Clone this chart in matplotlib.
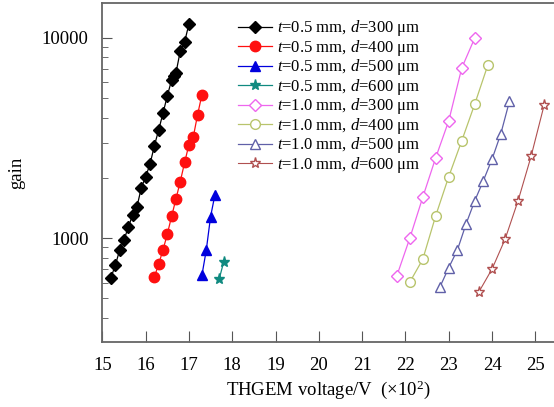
import matplotlib
matplotlib.use('Agg')
import matplotlib.pyplot as plt
import numpy as np

plt.rcParams['font.family'] = ['Liberation Serif', 'DejaVu Serif']
plt.rcParams['mathtext.fontset'] = 'custom'
plt.rcParams['mathtext.rm'] = 'Liberation Serif'
plt.rcParams['mathtext.it'] = 'Liberation Serif:italic'

# t=0.5 mm series
v05_300 = [15.2, 15.3, 15.4, 15.5, 15.6, 15.7, 15.8, 15.9, 16.0, 16.1, 16.2, 16.3, 16.4,
           16.5, 16.6, 16.65, 16.7, 16.8, 16.9, 17.0]
g05_300 = [636, 733, 871, 977, 1139, 1303, 1435, 1785, 2027, 2337, 2884, 3467, 4200,
           5130, 6170, 6460, 6680, 8610, 9550, 11750]
v05_400 = [16.2, 16.3, 16.4, 16.5, 16.6, 16.7, 16.8, 16.9, 17.0, 17.1, 17.2, 17.3]
g05_400 = [638, 741, 872, 1047, 1285, 1570, 1918, 2388, 2930, 3200, 4140, 5210]
v05_500 = [17.3, 17.4, 17.5, 17.6]
g05_500 = [653, 871, 1282, 1646]
v05_600 = [17.7, 17.8]
g05_600 = [627, 757]

# t=1.0 mm series
v10_300 = [21.8, 22.1, 22.4, 22.7, 23.0, 23.3, 23.6]
g10_300 = [648, 1000, 1603, 2529, 3860, 7080, 10000]
v10_400 = [22.1, 22.4, 22.7, 23.0, 23.3, 23.6, 23.9]
g10_400 = [603, 785, 1297, 2032, 3066, 4677, 7298]
v10_500 = [22.8, 23.0, 23.2, 23.4, 23.6, 23.8, 24.0, 24.2, 24.4]
g10_500 = [573, 713, 874, 1179, 1537, 1941, 2483, 3311, 4819]
v10_600 = [23.7, 24.0, 24.3, 24.6, 24.9, 25.2]
g10_600 = [541, 702, 988, 1537, 2559, 4602]

labels = ['$t$=0.5 mm, $d$=300 μm', '$t$=0.5 mm, $d$=400 μm',
          '$t$=0.5 mm, $d$=500 μm', '$t$=0.5 mm, $d$=600 μm',
          '$t$=1.0 mm, $d$=300 μm', '$t$=1.0 mm, $d$=400 μm',
          '$t$=1.0 mm, $d$=500 μm', '$t$=1.0 mm, $d$=600 μm']

fig = plt.figure(figsize=(5.54, 4.07), dpi=100)
ax = fig.add_axes([0.1847, 0.1597, 0.8153, 0.8322])

ax.plot(v05_300, g05_300, 'D-', color='black', ms=6.5, lw=0.9, label=labels[0])
ax.plot(v05_400, g05_400, 'o-', color='#ff1010', mec='#ff1010', ms=7.5, lw=0.9, label=labels[1])
ax.plot(v05_500, g05_500, '^-', color='#0000dd', ms=7.5, lw=0.9, label=labels[2])
ax.plot(v05_600, g05_600, '*-', color='#108a80', ms=8, lw=0.9, label=labels[3])
ax.plot(v10_300, g10_300, 'D-', color='#ee66ee', mfc='white', ms=6, lw=0.9, label=labels[4])
ax.plot(v10_400, g10_400, 'o-', color='#b8c46c', mfc='white', ms=7, lw=0.9, label=labels[5])
ax.plot(v10_500, g10_500, '^-', color='#6060a8', mfc='white', ms=7.5, lw=0.9, label=labels[6])
ax.plot(v10_600, g10_600, '*-', color='#b05050', mfc='white', ms=8, lw=0.8, label=labels[7])

ax.set_yscale('log')
ax.set_xlim(15, 25.43)
ax.set_ylim(303, 14900)
ax.set_xticks(np.arange(15, 26, 1))
ax.set_yticks([1000, 10000])
ax.set_yticklabels(['1000', '10000'])
ax.yaxis.set_minor_formatter(matplotlib.ticker.NullFormatter())

ax.tick_params(direction='in', labelsize=13.5, color='#555555')
ax.tick_params(axis='x', which='major', length=8, pad=11)
ax.tick_params(axis='y', which='major', length=7, pad=10)
ax.tick_params(axis='y', which='minor', length=4, direction='in', color='#555555')
ax.spines['right'].set_visible(False)
for s in ['left', 'bottom', 'top']:
    ax.spines[s].set_color('#666666')
    ax.spines[s].set_linewidth(1.3)

ax.set_xlabel('THGEM voltage/V  (×10$^2$)', fontsize=13.5, labelpad=3)
ax.set_ylabel('gain', fontsize=13.5, labelpad=12)

ax.legend(loc='upper left', bbox_to_anchor=(0.275, 0.99), frameon=False, fontsize=12,
          handlelength=2.0, handletextpad=0.35, labelspacing=-0.03, borderpad=0.2)

fig.savefig('out.png', dpi=100)
